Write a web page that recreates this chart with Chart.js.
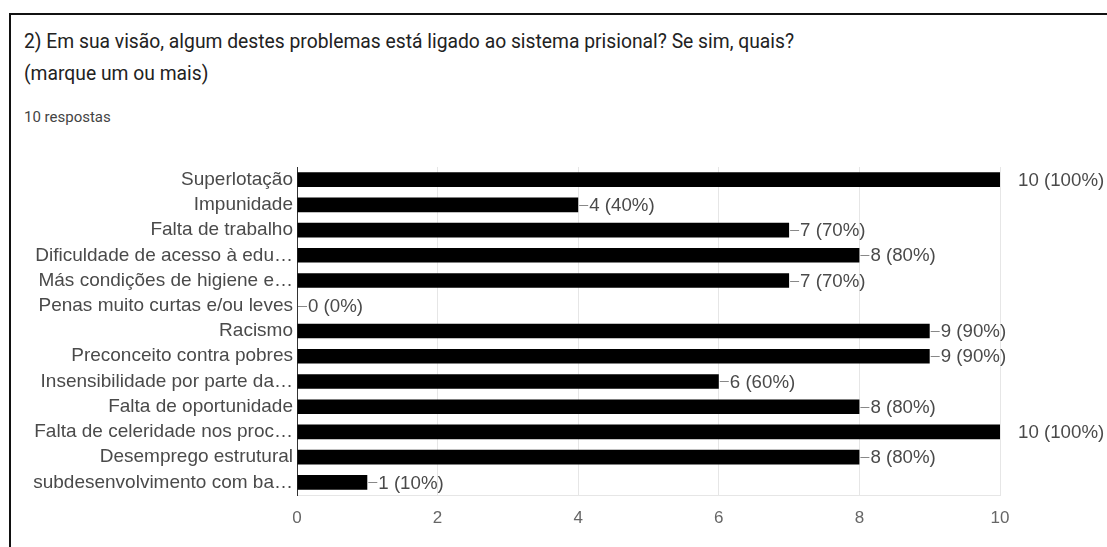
<!DOCTYPE html>
<html>
<head>
<meta charset="utf-8">
<script src="https://cdn.jsdelivr.net/npm/chart.js@4"></script>
<style>
  html, body { margin: 0; padding: 0; background: #fff; }
  #wrap { position: relative; width: 1107px; height: 547px; overflow: hidden; }
  #frame { position: absolute; left: 9px; top: 13px; right: -5px; bottom: -5px;
           border-left: 2px solid #111; border-top: 2px solid #111; }
  .t { position: absolute; left: 24px; font-family: Roboto, "Noto Sans", sans-serif; color: #222; white-space: nowrap; }
  #q1 { top: 30px; font-size: 19.3px; }
  #q2 { top: 62px; font-size: 19.3px; }
  #resp { top: 108px; font-size: 15px; color: #444; }
  canvas { position: absolute; left: 0; top: 0; }
</style>
</head>
<body>
<div id="wrap">
  <div id="frame"></div>
  <div class="t" id="q1">2) Em sua visão, algum destes problemas está ligado ao sistema prisional? Se sim, quais?</div>
  <div class="t" id="q2">(marque um ou mais)</div>
  <div class="t" id="resp">10 respostas</div>
  <canvas id="chart" width="1107" height="547"></canvas>
</div>
<script>
// answers as shown in the form summary (labels already truncated there)
const categories = [
  'Superlotação',
  'Impunidade',
  'Falta de trabalho',
  'Dificuldade de acesso à edu…',
  'Más condições de higiene e…',
  'Penas muito curtas e/ou leves',
  'Racismo',
  'Preconceito contra pobres',
  'Insensibilidade por parte da…',
  'Falta de oportunidade',
  'Falta de celeridade nos proc…',
  'Desemprego estrutural',
  'subdesenvolvimento com ba…'
];
const counts = [10, 4, 7, 8, 7, 0, 9, 9, 6, 8, 10, 8, 1];
const totalResponses = 10;
const xTicks = [0, 2, 4, 6, 8, 10];

const FONT = '"Liberation Sans", Arial, sans-serif';

// draws "—n (p%)" next to each bar, like google forms does
const valueLabels = {
  id: 'valueLabels',
  afterDatasetsDraw(chart) {
    let ctx = chart.ctx;
    let meta = chart.getDatasetMeta(0);
    let max = Math.max(...counts);
    ctx.save();
    ctx.font = '18.7px ' + FONT;
    ctx.textBaseline = 'middle';
    ctx.textAlign = 'left';
    meta.data.forEach((bar, i) => {
      let v = counts[i];
      let pct = Math.round(v / totalResponses * 100);
      let text = v + ' (' + pct + '%)';
      let x = bar.x;
      let y = bar.y;
      if (v === max) {
        ctx.fillStyle = '#4a4a4a';
        ctx.fillText(text, x + 18, y + 1);
      } else {
        ctx.strokeStyle = '#888';
        ctx.lineWidth = 1;
        ctx.beginPath();
        ctx.moveTo(x + 1, Math.round(y) + 0.5);
        ctx.lineTo(x + 10, Math.round(y) + 0.5);
        ctx.stroke();
        ctx.fillStyle = '#4a4a4a';
        ctx.fillText(text, x + 11, y + 1);
      }
    });
    ctx.restore();
  }
};

new Chart(document.getElementById('chart'), {
  type: 'bar',
  data: {
    labels: categories,
    datasets: [{
      data: counts,
      backgroundColor: '#000',
      borderWidth: 0,
      categoryPercentage: 1,
      barPercentage: 0.58
    }]
  },
  options: {
    indexAxis: 'y',
    responsive: false,
    animation: false,
    layout: { padding: { top: 167, right: 107, left: 0, bottom: 0 } },
    plugins: {
      legend: { display: false },
      tooltip: { enabled: false }
    },
    scales: {
      x: {
        min: 0,
        max: 10,
        afterBuildTicks: (axis) => { axis.ticks = xTicks.map(v => ({ value: v })); },
        afterFit: (axis) => { axis.height = 52; },
        grid: { color: '#e6e6e6', drawTicks: false },
        border: { color: '#e6e6e6' },
        ticks: {
          padding: 13,
          color: '#666',
          font: { family: FONT, size: 17 }
        }
      },
      y: {
        afterFit: (axis) => { axis.width = 297; },
        grid: { display: false, drawTicks: false },
        border: { color: '#333', width: 1 },
        ticks: {
          padding: 4,
          color: '#4a4a4a',
          autoSkip: false,
          font: { family: FONT, size: 19 }
        }
      }
    }
  },
  plugins: [valueLabels]
});
</script>
</body>
</html>
